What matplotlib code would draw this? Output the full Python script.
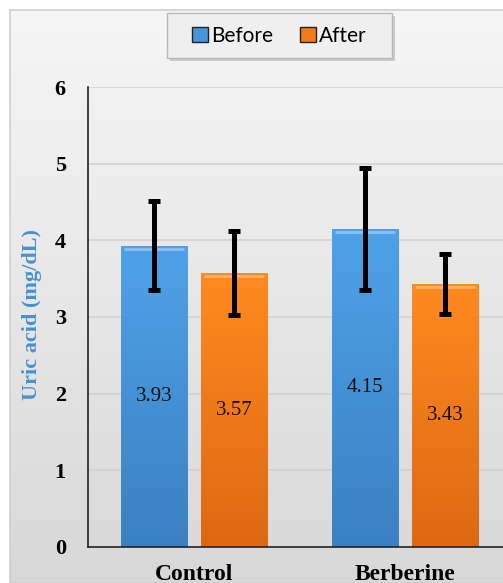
import numpy as np
import matplotlib.pyplot as plt
from matplotlib.colors import LinearSegmentedColormap
from matplotlib.patches import Rectangle

# Data
groups = ["Control", "Berberine"]
before = [3.93, 4.15]
after = [3.57, 3.43]
before_err = [0.58, 0.80]
after_err = [0.55, 0.39]
yticks = [0, 1, 2, 3, 4, 5, 6]

W, H = 503, 583
fig = plt.figure(figsize=(W / 100, H / 100), dpi=100)
fig.patch.set_facecolor("white")

# Chart area background (light grey gradient with a thin border)
bg = fig.add_axes([10 / W, 0, 1, 1 - 10 / H])
grad = np.linspace(0, 1, 256).reshape(-1, 1)
bg_cmap = LinearSegmentedColormap.from_list("bg", ["#f6f6f6", "#d8d8d8"])
bg.imshow(grad, aspect="auto", cmap=bg_cmap, extent=[0, 1, 0, 1], origin="upper")
bg.set_xticks([])
bg.set_yticks([])
for s in bg.spines.values():
    s.set_color("#d0d0d0")
    s.set_linewidth(1.2)

ax = fig.add_axes([88 / W, 36 / H, 1 - 88 / W, 460 / H])
ax.patch.set_alpha(0)

x = np.arange(len(groups))
width = 0.313
off = 0.19

bars_b = ax.bar(x - off, before, width, color="#4796dc", zorder=2)
bars_a = ax.bar(x + off, after, width, color="#f47a18", zorder=2)

# vertical shading inside the bars
blue_cmap = LinearSegmentedColormap.from_list("bl", ["#4fa2e8", "#3b80c2"])
orange_cmap = LinearSegmentedColormap.from_list("or", ["#ff8a20", "#de6812"])
for bars, cm in [(bars_b, blue_cmap), (bars_a, orange_cmap)]:
    for b in bars:
        x0, w, h = b.get_x(), b.get_width(), b.get_height()
        im = ax.imshow(grad, aspect="auto", cmap=cm, origin="upper",
                       extent=[x0, x0 + w, 0, h], zorder=2.1)
        im.set_clip_path(b)
        ax.plot([x0 + 0.015, x0 + w - 0.015], [h - 0.04, h - 0.04],
                color="white", alpha=0.35, lw=2, zorder=2.2, solid_capstyle="butt")

ax.errorbar(x - off, before, yerr=before_err, fmt="none", ecolor="black",
            elinewidth=3.6, capsize=4.5, capthick=3.6, zorder=3)
ax.errorbar(x + off, after, yerr=after_err, fmt="none", ecolor="black",
            elinewidth=3.6, capsize=4.5, capthick=3.6, zorder=3)

for xi, v in zip(x - off, before):
    ax.text(xi, v / 2, f"{v:.2f}", ha="center", va="center",
            fontsize=15, family="Liberation Serif", color="#111111", zorder=4)
for xi, v in zip(x + off, after):
    ax.text(xi, v / 2, f"{v:.2f}", ha="center", va="center",
            fontsize=15, family="Liberation Serif", color="#111111", zorder=4)

ax.set_xlim(-0.502, 1.464)
ax.set_ylim(0, 6)
ax.set_yticks(yticks)
ax.set_yticklabels([str(t) for t in yticks], fontsize=16, fontweight="bold",
                   family="Liberation Serif")
ax.tick_params(axis="y", length=0, pad=16)
ax.set_xticks(x)
ax.set_xticklabels(groups, fontsize=17, fontweight="bold", family="Liberation Serif")
ax.tick_params(axis="x", length=0, pad=12)

ax.yaxis.grid(True, color="#d2d2d2", lw=1.2, zorder=0)
ax.set_axisbelow(True)
for side in ["top", "right"]:
    ax.spines[side].set_visible(False)
ax.spines["left"].set_color("#222222")
ax.spines["bottom"].set_color("#222222")
ax.spines["left"].set_linewidth(1.2)
ax.spines["bottom"].set_linewidth(1.2)

fig.text(32 / W, 1 - 315 / H, "Uric acid (mg/dL)", rotation=90, ha="center",
         va="center", fontsize=16, fontweight="bold", family="Liberation Serif",
         color="#4a90d2")

# legend box drawn separately so its padding can match the reference
lx0, ly0, lx1, ly1 = 167, 13, 392, 58
fig.patches.append(Rectangle(((lx0 + 3) / W, 1 - (ly1 + 3) / H), (lx1 - lx0) / W,
                             (ly1 - ly0) / H, transform=fig.transFigure,
                             facecolor="#9a9a9a", alpha=0.45, edgecolor="none",
                             zorder=5))
fig.patches.append(Rectangle((lx0 / W, 1 - ly1 / H), (lx1 - lx0) / W,
                             (ly1 - ly0) / H, transform=fig.transFigure,
                             facecolor="#efefef", edgecolor="#b8b8b8", lw=1.0,
                             zorder=6))

leg = fig.legend([bars_b, bars_a], ["Before", "After"], loc="center",
                 bbox_to_anchor=((lx0 + lx1) / 2 / W, 1 - 35.5 / H), ncol=2,
                 prop={"family": "Lato", "size": 15}, frameon=False,
                 handlelength=0.75, handleheight=0.75,
                 handletextpad=0.15, columnspacing=1.3, borderpad=0.0,
                 borderaxespad=0.0)
leg.set_zorder(7)
for h in leg.legend_handles:
    h.set_edgecolor("#222222")
    h.set_linewidth(1.0)

fig.savefig("out.png", dpi=100)
